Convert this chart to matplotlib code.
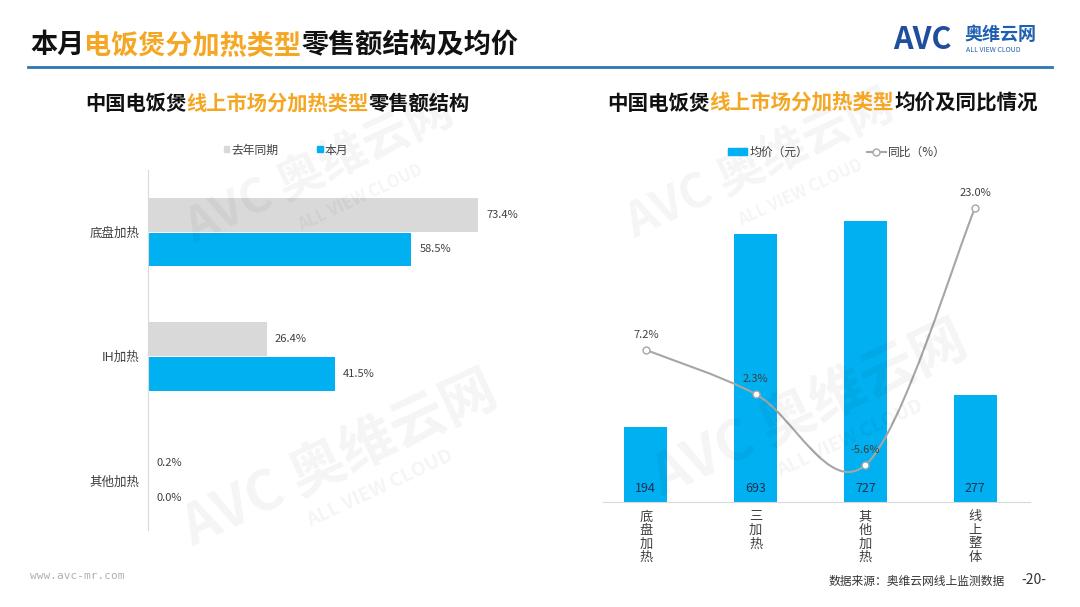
import matplotlib.pyplot as plt
import numpy as np
from matplotlib.path import Path
from matplotlib.patches import PathPatch, Patch
from matplotlib.lines import Line2D

plt.rcParams['font.family'] = ['Noto Sans CJK SC', 'DejaVu Sans']

# left chart: retail share by heating type
share_types = ['底盘加热', 'IH加热', '其他加热']
share_last_year = [73.4, 26.4, 0.2]
share_this_month = [58.5, 41.5, 0.0]

# right chart: average price and yoy change
price_types = ['底盘加热', '三加热', '其他加热', '线上整体']
avg_price = [194, 693, 727, 277]
yoy_change = [7.2, 2.3, -5.6, 23.0]

BLUE = '#00B0F0'
GREY = '#D9D9D9'
ORANGE = '#F5A623'
TXT = '#404040'

W, H = 1080, 607
fig = plt.figure(figsize=(W / 100, H / 100), dpi=100)
renderer = fig.canvas.get_renderer()


def box(x0, y0, x1, y1):
    return [x0 / W, 1 - y1 / H, (x1 - x0) / W, (y1 - y0) / H]


def multicolor(x, y, parts, **kw):
    for s, c in parts:
        t = fig.text(x / W, 1 - y / H, s, color=c, va='center', ha='left', **kw)
        x += t.get_window_extent(renderer=renderer).width


# watermarks
for wx, wy, fs in [(320, 170, 34), (340, 460, 40), (760, 165, 34), (810, 410, 40)]:
    fig.text(wx / W, 1 - wy / H, 'AVC 奥维云网', fontsize=fs, fontweight='bold',
             style='italic', color='#000000', alpha=0.045, rotation=25,
             ha='center', va='center')
    fig.text((wx + 40) / W, 1 - (wy + 28) / H, 'ALL VIEW CLOUD', fontsize=fs * 0.35,
             fontweight='bold', color='#000000', alpha=0.045, rotation=25,
             ha='center', va='center')

# header
multicolor(30, 45, [('本月', '#111111'), ('电饭煲分加热类型', ORANGE),
                    ('零售额结构及均价', '#111111')], fontsize=19.5, fontweight='bold')
fig.add_artist(Line2D([28 / W, 1052 / W], [1 - 67 / H] * 2, color='#2E75B6', lw=2))
fig.text(893 / W, 1 - 40 / H, 'AVC', fontsize=22, fontweight='bold', style='italic',
         color='#1F4E9C', va='center', ha='left')
fig.text(964 / W, 1 - 35 / H, '奥维云网', fontsize=13, fontweight='bold',
         color='#1F5FB0', va='center', ha='left')
fig.text(966 / W, 1 - 50 / H, 'ALL VIEW CLOUD', fontsize=5, color='#1F5FB0',
         va='center', ha='left')

# subtitles
multicolor(85, 103, [('中国电饭煲', '#111111'), ('线上市场分加热类型', ORANGE),
                     ('零售额结构', '#111111')], fontsize=14.6, fontweight='bold')
multicolor(607, 103, [('中国电饭煲', '#111111'), ('线上市场分加热类型', ORANGE),
                      ('均价及同比情况', '#111111')], fontsize=14.8, fontweight='bold')

# ---- left chart ----
ax = fig.add_axes(box(148, 170, 520, 530))
y = np.arange(len(share_types))
ax.barh(y - 0.14, share_last_year, height=0.273, color=GREY, label='去年同期')
ax.barh(y + 0.14, share_this_month, height=0.273, color=BLUE, label='本月')
for i in range(len(share_types)):
    ax.text(share_last_year[i] + 1.8, y[i] - 0.14, f'{share_last_year[i]:.1f}%',
            va='center', ha='left', fontsize=8, color=TXT)
    ax.text(share_this_month[i] + 1.8, y[i] + 0.14, f'{share_this_month[i]:.1f}%',
            va='center', ha='left', fontsize=8, color=TXT)
ax.set_xlim(0, 82.7)
ax.set_ylim(2.4, -0.5)
ax.set_yticks(y)
ax.set_yticklabels(share_types, fontsize=9, color=TXT)
ax.tick_params(axis='y', length=0, pad=6)
ax.set_xticks([])
for s in ['top', 'right', 'bottom']:
    ax.spines[s].set_visible(False)
ax.spines['left'].set_color('#D9D9D9')
fig.legend(handles=[Patch(color=GREY, label='去年同期'), Patch(color=BLUE, label='本月')],
           loc='center', bbox_to_anchor=(286 / W, 1 - 150 / H), ncol=2, frameon=False,
           fontsize=8.5, handlelength=0.45, handleheight=0.45, handletextpad=0.2,
           columnspacing=3.3, labelcolor=TXT)

# ---- right chart ----
bx = fig.add_axes(box(603, 170, 1030, 502))
x = np.arange(len(price_types))
bx.bar(x, avg_price, width=0.39, color=BLUE, zorder=2)
for i, v in enumerate(avg_price):
    bx.annotate(f'{v}', (x[i], 0), xytext=(0, 13), textcoords='offset pixels',
                ha='center', va='center', fontsize=9, color='#1F3050', zorder=3)
bx.set_xlim(-0.39, 3.5)
bx.set_ylim(0, 858)
bx.set_yticks([])
bx.set_xticks(x)
bx.set_xticklabels(['\n'.join(t) for t in price_types], fontsize=9.5, color=TXT,
                   linespacing=1.05, va='top')
bx.tick_params(axis='x', length=0, pad=6)
for s in ['top', 'right', 'left']:
    bx.spines[s].set_visible(False)
bx.spines['bottom'].set_color('#D9D9D9')

b2 = bx.twinx()
b2.set_ylim(-9.7, 27.2)
b2.axis('off')
# smooth line (Catmull-Rom style bezier through the points)
pts = np.column_stack([x, yoy_change]).astype(float)
ext = np.vstack([pts[0], pts, pts[-1]])
verts = [tuple(pts[0])]
codes = [Path.MOVETO]
for k in range(1, len(ext) - 2):
    p0, p1, p2, p3 = ext[k - 1], ext[k], ext[k + 1], ext[k + 2]
    verts += [tuple(p1 + (p2 - p0) / 6), tuple(p2 - (p3 - p1) / 6), tuple(p2)]
    codes += [Path.CURVE4] * 3
b2.add_patch(PathPatch(Path(verts, codes), fill=False, edgecolor='#A6A6A6', lw=1.5, zorder=4))
b2.plot(x, yoy_change, ls='none', marker='o', ms=5, mfc='white', mec='#A6A6A6',
        mew=1, zorder=5)
for i, v in enumerate(yoy_change):
    b2.annotate(f'{v:.1f}%', (x[i], v), xytext=(0, 15), textcoords='offset pixels',
                ha='center', va='center', fontsize=8, color=TXT, zorder=6)
fig.legend(handles=[Patch(color=BLUE, label='均价（元）'),
                    Line2D([], [], color='#A6A6A6', marker='o', mfc='white', ms=5,
                           label='同比（%）')],
           loc='center', bbox_to_anchor=(837 / W, 1 - 152 / H), ncol=2, frameon=False,
           fontsize=8.5, handlelength=1.6, handleheight=0.6, handletextpad=0.2,
           columnspacing=5, labelcolor=TXT)

# footer
fig.text(30 / W, 1 - 576 / H, 'www.avc-mr.com', fontsize=8, color='#B0B0B0',
         va='center', ha='left', family='DejaVu Sans Mono')
fig.text(1005 / W, 1 - 581 / H, '数据来源：奥维云网线上监测数据', fontsize=8.5,
         color='#333333', va='center', ha='right')
fig.text(1034 / W, 1 - 580 / H, '-20-', fontsize=10, color='#333333',
         va='center', ha='center')

fig.savefig('out.png', dpi=100)
